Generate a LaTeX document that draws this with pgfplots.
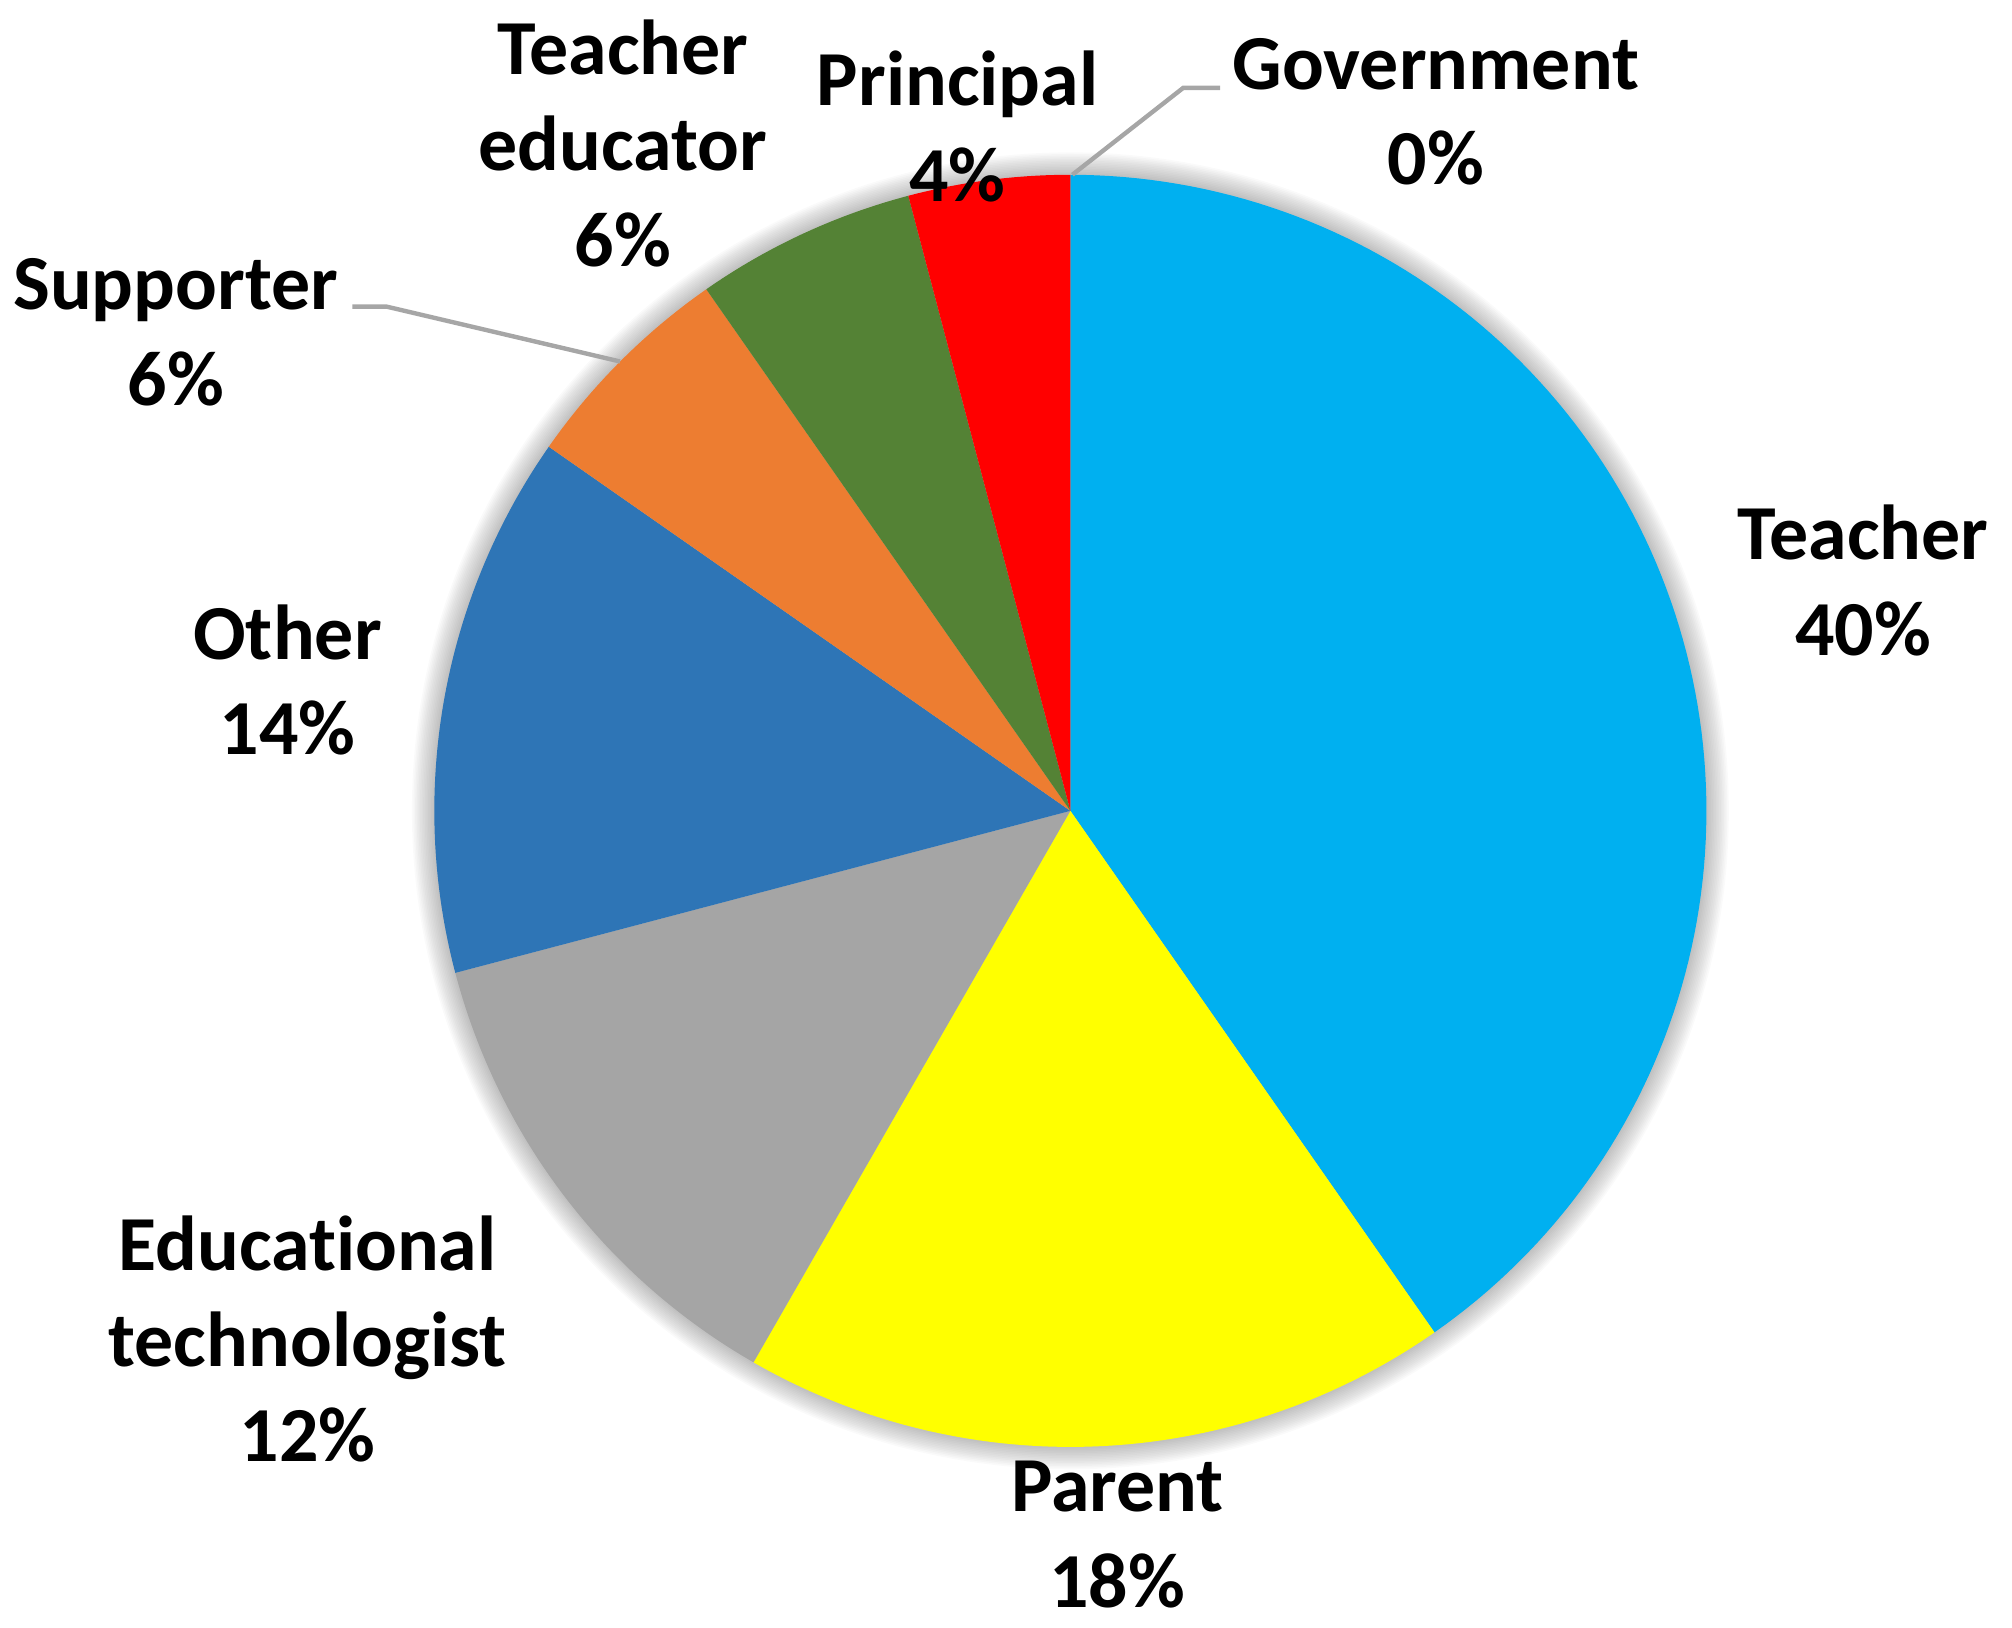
\documentclass[border=0pt]{standalone}
\usepackage{pgfplots}
\pgfplotsset{compat=1.18}
\usepackage{fontspec}
\setmainfont{Carlito}[Ligatures=NoCommon]

\definecolor{cTeacher}{HTML}{00B0F0}
\definecolor{cParent}{HTML}{FFFF00}
\definecolor{cEdu}{HTML}{A5A5A5}
\definecolor{cOther}{HTML}{2E75B6}
\definecolor{cSupp}{HTML}{ED7D31}
\definecolor{cTEdu}{HTML}{548235}
\definecolor{cPrinc}{HTML}{FF0000}
\definecolor{leader}{HTML}{A6A6A6}

% pie centre and radius, in pixel units of the picture
\def\cx{1069}
\def\cy{812}
\def\rr{637}

\tikzset{lbl/.style={font=\bfseries\fontsize{19.5}{24}\selectfont, align=center}}
\pgfplotsset{slice/.style={draw=none, domain=#1, samples=120, variable=\t}}

\begin{document}
\begin{tikzpicture}
\begin{axis}[
    hide axis, scale only axis,
    width=503pt, height=407.5pt,
    xmin=0, xmax=2012, ymin=0, ymax=1630,
    y dir=reverse, clip=false,
]
\addplot[draw=none] coordinates {(0,0) (2012,1630)};

% soft shadow
\pgfplotsinvokeforeach{1,...,14}{
  \fill[black, opacity=0.018] (axis cs:\cx,\cy) circle[radius=\rr+1.6*#1];
}

% slices: start:end in percent, clockwise from the top
% Teacher 40.3, Parent 18.0, Educational technologist 12.6, Other 13.8,
% Supporter 5.6, Teacher educator 5.6, Principal 4.1, Government 0
\addplot[fill=cTeacher, slice=0:40.3]  ({\cx+\rr*sin(3.6*\t)},{\cy-\rr*cos(3.6*\t)}) -- (axis cs:\cx,\cy) -- cycle;
\addplot[fill=cParent,  slice=40.3:58.3] ({\cx+\rr*sin(3.6*\t)},{\cy-\rr*cos(3.6*\t)}) -- (axis cs:\cx,\cy) -- cycle;
\addplot[fill=cEdu,     slice=58.3:70.9] ({\cx+\rr*sin(3.6*\t)},{\cy-\rr*cos(3.6*\t)}) -- (axis cs:\cx,\cy) -- cycle;
\addplot[fill=cOther,   slice=70.9:84.7] ({\cx+\rr*sin(3.6*\t)},{\cy-\rr*cos(3.6*\t)}) -- (axis cs:\cx,\cy) -- cycle;
\addplot[fill=cSupp,    slice=84.7:90.3] ({\cx+\rr*sin(3.6*\t)},{\cy-\rr*cos(3.6*\t)}) -- (axis cs:\cx,\cy) -- cycle;
\addplot[fill=cTEdu,    slice=90.3:95.9] ({\cx+\rr*sin(3.6*\t)},{\cy-\rr*cos(3.6*\t)}) -- (axis cs:\cx,\cy) -- cycle;
\addplot[fill=cPrinc,   slice=95.9:100]  ({\cx+\rr*sin(3.6*\t)},{\cy-\rr*cos(3.6*\t)}) -- (axis cs:\cx,\cy) -- cycle;

% leader lines
\draw[leader, line width=1.1pt] (axis cs:350,307) -- (axis cs:384,307) -- (axis cs:618,362);
\draw[leader, line width=1.1pt] (axis cs:1071,175) -- (axis cs:1182,88) -- (axis cs:1219,88);

% labels
\node[lbl] at (axis cs:1435,112) {Government\\0\%};
\node[lbl] at (axis cs:956,127) {Principal\\4\%};
\node[lbl] at (axis cs:621,144) {Teacher\\educator\\6\%};
\node[lbl] at (axis cs:173,333) {Supporter\\6\%};
\node[lbl] at (axis cs:285,681) {Other\\14\%};
\node[lbl] at (axis cs:1863,581) {Teacher\\40\%};
\node[lbl] at (axis cs:305,1341) {Educational\\technologist\\12\%};
\node[lbl] at (axis cs:1116,1537) {Parent\\18\%};
\end{axis}
\end{tikzpicture}
\end{document}
